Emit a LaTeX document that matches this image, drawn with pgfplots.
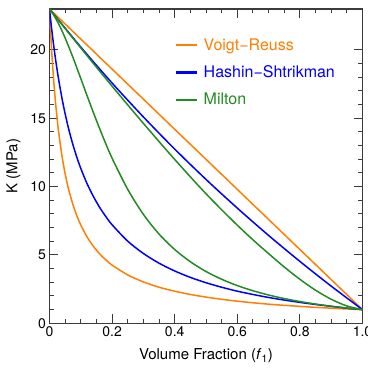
\documentclass[border=0pt]{standalone}
\usepackage{fontspec}
\setmainfont{TeX Gyre Heros}
\usepackage{pgfplots}
\pgfplotsset{compat=1.18}
\definecolor{cor}{RGB}{255,127,0}
\definecolor{cbl}{RGB}{0,0,255}
\definecolor{cgr}{RGB}{34,139,34}
\definecolor{axc}{RGB}{60,60,60}
\begin{document}
\begin{tikzpicture}
\begin{axis}[name=ax, scale only axis, width=313pt, height=314.3pt,
  xmin=0, xmax=1, ymin=0, ymax=23,
  xtick={0,0.2,0.4,0.6,0.8,1}, xticklabels={0,0.2,0.4,0.6,0.8,1.0},
  ytick={0,5,10,15,20}, yticklabels={0,5,10,15,20},
  minor x tick num=3, minor y tick num=4,
  tick align=inside, major tick length=9pt, minor tick length=4.5pt,
  axis line style={axc, line width=1.2pt},
  every tick/.style={axc, line width=1pt},
  tick label style={font=\fontsize{14}{16}\selectfont},
  xlabel={Volume Fraction (\textit{f}\textsubscript{1})},
  ylabel={K (MPa)},
  label style={font=\fontsize{15}{17}\selectfont},
  xlabel style={yshift=-5pt},
  ylabel style={yshift=3pt},
  legend style={at={(0.395,0.92)}, anchor=north west, draw=none, fill=none,
    font=\fontsize{16}{18}\selectfont, row sep=10pt},
  legend cell align=left,
  legend image code/.code={\fill[#1] (0pt,-0.7pt) rectangle (20pt,0.7pt); \path (25pt,0pt);},
]
\addlegendimage{cor}
\addlegendentry[text=cor]{Voigt−Reuss}
\addlegendimage{cbl}
\addlegendentry[text=cbl]{Hashin−Shtrikman}
\addlegendimage{cgr}
\addlegendentry[text=cgr]{Milton}
\addplot[cor, line width=1.5pt, forget plot] coordinates {(0,23) (1,1)};
\addplot[cor, line width=1.5pt, smooth, forget plot] coordinates {(0,23) (0.0025,21.80) (0.005,20.72) (0.0075,19.74) (0.01,18.85) (0.015,17.29) (0.02,15.97) (0.025,14.84) (0.03,13.86) (0.04,12.23) (0.05,10.95) (0.06,9.91) (0.07,9.06) (0.08,8.33) (0.09,7.72) (0.1,7.19) (0.12,6.32) (0.14,5.64) (0.16,5.09) (0.18,4.64) (0.2,4.26) (0.25,3.54) (0.3,3.03) (0.35,2.64) (0.4,2.35) (0.45,2.11) (0.5,1.92) (0.55,1.756) (0.6,1.62) (0.65,1.503) (0.7,1.40) (0.75,1.314) (0.8,1.24) (0.85,1.168) (0.9,1.106) (0.95,1.050) (1,1)};
\addplot[cbl, line width=1.5pt, smooth, forget plot] coordinates {(0,23) (0.1,20.21) (0.2,17.58) (0.3,15.10) (0.4,12.75) (0.5,10.53) (0.6,8.43) (0.7,6.43) (0.8,4.53) (0.9,2.72) (1,1)};
\addplot[cbl, line width=1.5pt, smooth, forget plot] coordinates {(0,23) (0.005,21.93) (0.01,20.95) (0.015,20.05) (0.02,19.22) (0.025,18.45) (0.03,17.74) (0.04,16.45) (0.05,15.33) (0.06,14.34) (0.07,13.46) (0.08,12.68) (0.09,11.97) (0.1,11.33) (0.12,10.22) (0.14,9.29) (0.16,8.49) (0.18,7.81) (0.2,7.21) (0.25,6.01) (0.3,5.11) (0.35,4.40) (0.4,3.83) (0.45,3.36) (0.5,2.97) (0.55,2.64) (0.6,2.35) (0.65,2.11) (0.7,1.89) (0.75,1.70) (0.8,1.53) (0.85,1.38) (0.9,1.24) (0.95,1.11) (1,1)};
\addplot[cgr, line width=1.5pt, smooth, forget plot] coordinates {(0,23) (0.05,21.57) (0.1,20.15) (0.15,18.74) (0.2,17.35) (0.25,15.98) (0.3,14.63) (0.35,13.30) (0.4,11.99) (0.45,10.72) (0.5,9.48) (0.55,8.31) (0.6,7.18) (0.65,6.11) (0.7,5.10) (0.75,4.12) (0.8,3.22) (0.85,2.42) (0.9,1.76) (0.95,1.27) (1,1)};
\addplot[cgr, line width=1.5pt, smooth, forget plot] coordinates {(0,23) (0.01,22.68) (0.02,22.30) (0.03,21.87) (0.04,21.39) (0.05,20.88) (0.075,19.45) (0.1,17.91) (0.125,16.35) (0.15,14.84) (0.175,13.41) (0.2,12.08) (0.25,9.80) (0.3,7.97) (0.35,6.53) (0.4,5.40) (0.45,4.505) (0.5,3.79) (0.55,3.224) (0.6,2.76) (0.65,2.383) (0.7,2.07) (0.75,1.811) (0.8,1.593) (0.85,1.408) (0.9,1.251) (0.95,1.116) (1,1)};
\end{axis}
\pgfresetboundingbox
\path ([shift={(-49.5pt,-45.7pt)}]ax.south west) rectangle ([shift={(5.5pt,9pt)}]ax.north east);
\end{tikzpicture}
\end{document}
